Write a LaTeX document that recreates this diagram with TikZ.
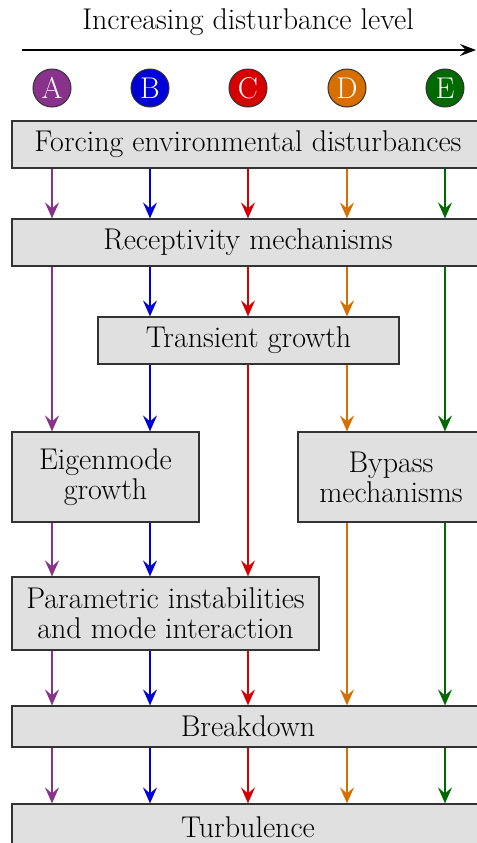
\documentclass[tikz,border=0pt]{standalone}
\usetikzlibrary{arrows.meta}
\definecolor{cA}{RGB}{136,50,140}
\definecolor{cB}{RGB}{0,0,215}
\definecolor{cC}{RGB}{215,0,0}
\definecolor{cD}{RGB}{214,110,0}
\definecolor{cE}{RGB}{0,105,0}
\definecolor{boxfill}{RGB}{224,224,224}
\begin{document}
\begin{tikzpicture}[x=0.5pt,y=-0.5pt,
  font=\fontsize{15}{15}\selectfont,
  box/.style={draw=black!80, fill=boxfill, line width=0.6pt, inner sep=0pt, align=center},
  lab/.style={circle, draw=black!80, line width=0.5pt, minimum size=19pt, inner sep=0pt, text=white},
  flow/.style={line width=0.8pt, -{Stealth[length=8pt,width=7pt,inset=3pt]}}]
\useasboundingbox (0,0) rectangle (477,843);
\clip (0,0) rectangle (477,843);

% title and arrow
\node (title) at (248,22) {Increasing disturbance level};
\coordinate (al) at (22,50);
\coordinate (ar) at (476,50);
\draw[line width=0.8pt, -{Stealth[length=8pt,width=6pt,inset=3pt]}] (al) -- (ar);

% labels
\node[lab, fill=cA] (A) at (52,88) {A};
\node[lab, fill=cB] (B) at (150,88) {B};
\node[lab, fill=cC] (C) at (248,88) {C};
\node[lab, fill=cD] (D) at (347,88) {D};
\node[lab, fill=cE] (E) at (445,88) {E};

% boxes
\node[box, minimum width=236pt, minimum height=23.5pt] (force) at (248,144.5) {Forcing environmental disturbances};
\node[box, minimum width=236pt, minimum height=23.5pt] (recep) at (248,242.5) {Receptivity mechanisms};
\node[box, minimum width=150.5pt, minimum height=23.5pt] (trans) at (248.5,340.5) {Transient growth};
\node[box, minimum width=93.5pt, minimum height=45pt] (eigen) at (105.5,477) {Eigenmode\\growth};
\node[box, minimum width=93pt, minimum height=45pt] (bypass) at (391,477) {Bypass\\mechanisms};
\node[box, minimum width=153.5pt, minimum height=36.5pt] (param) at (165.5,613.5) {Parametric instabilities\\and mode interaction};
\node[box, minimum width=236pt, minimum height=20.5pt] (break) at (248,726.5) {Breakdown};
\node[box, minimum width=236pt, minimum height=23.5pt] (turb) at (248,827.5) {Turbulence};

% Forcing -> Receptivity
\draw[flow, cA] (force.south -| A) -- (recep.north -| A);
\draw[flow, cB] (force.south -| B) -- (recep.north -| B);
\draw[flow, cC] (force.south -| C) -- (recep.north -| C);
\draw[flow, cD] (force.south -| D) -- (recep.north -| D);
\draw[flow, cE] (force.south -| E) -- (recep.north -| E);

% Receptivity -> next
\draw[flow, cA] (recep.south -| A) -- (eigen.north -| A);
\draw[flow, cB] (recep.south -| B) -- (trans.north -| B);
\draw[flow, cC] (recep.south -| C) -- (trans.north -| C);
\draw[flow, cD] (recep.south -| D) -- (trans.north -| D);
\draw[flow, cE] (recep.south -| E) -- (bypass.north -| E);

% Transient -> next
\draw[flow, cB] (trans.south -| B) -- (eigen.north -| B);
\draw[flow, cC] (trans.south -| C) -- (param.north -| C);
\draw[flow, cD] (trans.south -| D) -- (bypass.north -| D);

% Eigenmode -> Parametric
\draw[flow, cA] (eigen.south -| A) -- (param.north -| A);
\draw[flow, cB] (eigen.south -| B) -- (param.north -| B);

% -> Breakdown
\draw[flow, cA] (param.south -| A) -- (break.north -| A);
\draw[flow, cB] (param.south -| B) -- (break.north -| B);
\draw[flow, cC] (param.south -| C) -- (break.north -| C);
\draw[flow, cD] (bypass.south -| D) -- (break.north -| D);
\draw[flow, cE] (bypass.south -| E) -- (break.north -| E);

% Breakdown -> Turbulence
\draw[flow, cA] (break.south -| A) -- (turb.north -| A);
\draw[flow, cB] (break.south -| B) -- (turb.north -| B);
\draw[flow, cC] (break.south -| C) -- (turb.north -| C);
\draw[flow, cD] (break.south -| D) -- (turb.north -| D);
\draw[flow, cE] (break.south -| E) -- (turb.north -| E);
\end{tikzpicture}
\end{document}
